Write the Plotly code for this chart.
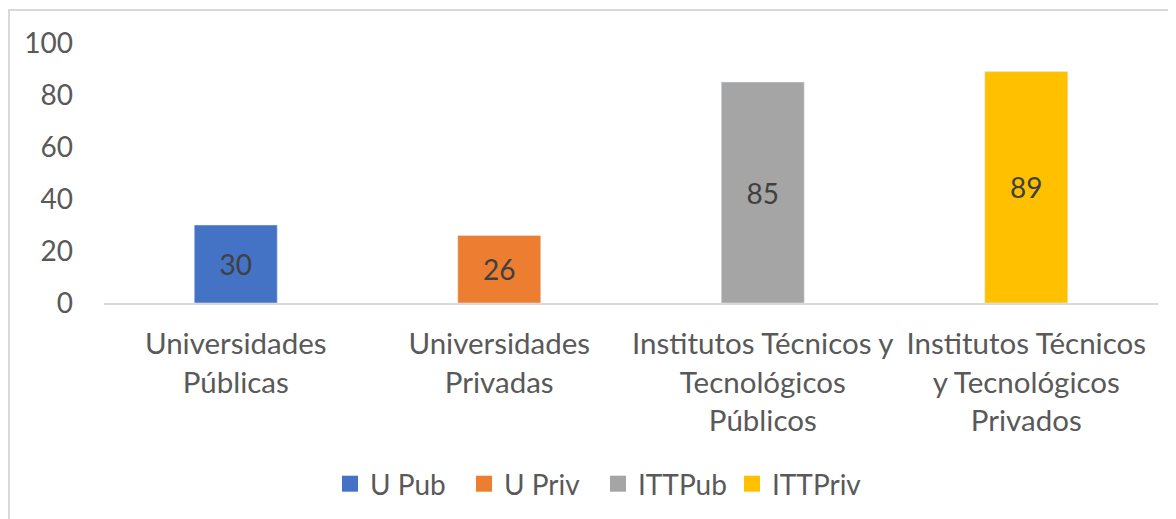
import plotly.graph_objects as go

categories = ["Universidades<br>Públicas", "Universidades<br>Privadas",
              "Institutos Técnicos y<br>Tecnológicos<br>Públicos",
              "Institutos Técnicos<br>y Tecnológicos<br>Privados"]
series_names = ["U Pub", "U Priv", "ITTPub", "ITTPriv"]
values = [30, 26, 85, 89]
colors = ["#4472C4", "#ED7D31", "#A5A5A5", "#FFC000"]
y_ticks = [0, 20, 40, 60, 80, 100]

FONT = "Lato"
# page body has an 8px margin, so the figure is drawn 8px smaller and shifted
W, H = 1168, 511
ML, MR, MT, MB = 96, 18, 35, 216
pw = W - ML - MR
ph = H - MT - MB
y0px = H - MB  # pixel row of value 0 in figure coordinates

fig = go.Figure()
for name, cat, val, col in zip(series_names, categories, values, colors):
    fig.add_trace(go.Bar(
        x=[cat], y=[val], name=name, marker_color=col, width=0.315,
        text=[str(val)], textposition="inside", insidetextanchor="middle",
        textfont=dict(family=FONT, size=28, color="#404040"),
        showlegend=False, cliponaxis=False,
    ))
for name, col in zip(series_names, colors):
    fig.add_trace(go.Scatter(
        x=[None], y=[None], mode="markers", name=name,
        marker=dict(symbol="square", size=16, color=col),
    ))

fig.update_layout(
    width=W, height=H,
    margin=dict(l=ML, r=MR, t=MT, b=MB, autoexpand=False),
    paper_bgcolor="white", plot_bgcolor="white",
    barmode="overlay",
    font=dict(family=FONT, size=28, color="#595959"),
    legend=dict(orientation="h", x=(322 - ML) / pw, xanchor="left",
                y=(y0px - 476) / ph, yanchor="middle",
                font=dict(family=FONT, size=28, color="#595959"),
                itemwidth=30, tracegroupgap=0, entrywidth=89,
                entrywidthmode="pixels"),
    xaxis=dict(type="category", categoryorder="array", categoryarray=categories,
               showline=True, linecolor="#D9D9D9", linewidth=1.5,
               showgrid=False, ticks="", ticklabelstandoff=14,
               tickfont=dict(family=FONT, size=29.5, color="#595959")),
    yaxis=dict(range=[0, 100], tickvals=y_ticks, showgrid=False, zeroline=False,
               showline=False, ticks="", ticklabelstandoff=30,
               tickfont=dict(family=FONT, size=28, color="#595959")),
    shapes=[dict(type="rect", xref="paper", yref="paper",
                 x0=(1 - ML) / pw, x1=(W + 20 - ML) / pw,
                 y0=(y0px - (H + 20)) / ph, y1=(y0px - 2) / ph,
                 line=dict(color="#D9D9D9", width=2), fillcolor="rgba(0,0,0,0)",
                 layer="below")],
)

fig.write_html("out.html")
